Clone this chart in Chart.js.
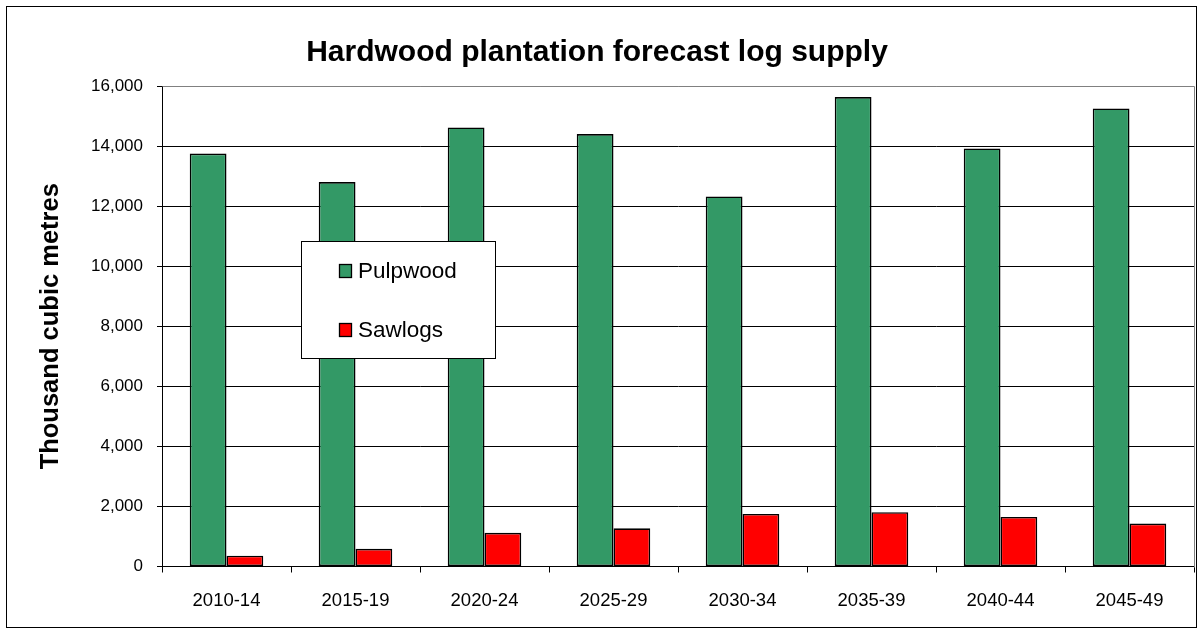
<!DOCTYPE html>
<html>
<head>
<meta charset="utf-8">
<title>Hardwood plantation forecast log supply</title>
<script src="https://cdn.jsdelivr.net/npm/chart.js@4/dist/chart.umd.min.js"></script>
<style>
  html, body { margin: 0; padding: 0; background: #ffffff; }
  #wrap { width: 1203px; height: 634px; }
</style>
</head>
<body>
<div id="wrap"><canvas id="c" width="1203" height="634"></canvas></div>
<script>
// Five-year harvest periods
const periods = ['2010-14', '2015-19', '2020-24', '2025-29', '2030-34', '2035-39', '2040-44', '2045-49'];
// Forecast supply, thousand cubic metres
const pulpwood = [13750, 12800, 14620, 14400, 12320, 15630, 13920, 15250];
const sawlogs = [360, 590, 1120, 1270, 1750, 1810, 1650, 1430];
// Value axis ticks
const yTicks = [0, 2000, 4000, 6000, 8000, 10000, 12000, 14000, 16000];

const FONT = "'Liberation Sans', Arial, Helvetica, sans-serif";

// White page with a thin frame around the whole chart
const framePlugin = {
  id: 'frame',
  beforeDraw(chart) {
    const ctx = chart.ctx;
    ctx.save();
    ctx.fillStyle = '#ffffff';
    ctx.fillRect(0, 0, chart.width, chart.height);
    ctx.strokeStyle = '#000000';
    ctx.lineWidth = 1;
    ctx.strokeRect(6.5, 6.5, chart.width - 13, chart.height - 13);
    ctx.restore();
  },
  beforeDatasetsDraw(chart) {
    // grey top and right edges of the plot area
    const { ctx, chartArea: a } = chart;
    ctx.save();
    ctx.strokeStyle = '#808080';
    ctx.lineWidth = 1;
    ctx.beginPath();
    ctx.moveTo(Math.round(a.left) + 0.5, Math.round(a.top) + 0.5);
    ctx.lineTo(Math.round(a.right) + 0.5, Math.round(a.top) + 0.5);
    ctx.lineTo(Math.round(a.right) + 0.5, Math.round(a.bottom) + 0.5);
    ctx.stroke();
    ctx.restore();
  }
};

// Boxed legend sitting over the plot area
const boxLegendPlugin = {
  id: 'boxLegend',
  afterDraw(chart) {
    const ctx = chart.ctx;
    const box = { x: 301.5, y: 241.5, w: 194, h: 117 };
    ctx.save();
    ctx.fillStyle = '#ffffff';
    ctx.fillRect(box.x, box.y, box.w, box.h);
    ctx.strokeStyle = '#000000';
    ctx.lineWidth = 1;
    ctx.strokeRect(box.x, box.y, box.w, box.h);
    const rows = [271, 330];
    ctx.font = '22.5px ' + FONT;
    ctx.textBaseline = 'middle';
    ctx.textAlign = 'left';
    chart.data.datasets.forEach((ds, i) => {
      const cy = rows[i];
      ctx.fillStyle = ds.backgroundColor;
      ctx.fillRect(339.5, cy - 6.5, 12, 13);
      ctx.strokeStyle = '#000000';
      ctx.lineWidth = 1.3;
      ctx.strokeRect(339.5, cy - 6.5, 12, 13);
      ctx.fillStyle = '#000000';
      ctx.fillText(ds.label, 358, cy + 1);
    });
    ctx.restore();
  }
};

new Chart(document.getElementById('c'), {
  type: 'bar',
  data: {
    labels: periods,
    datasets: [
      {
        label: 'Pulpwood',
        data: pulpwood,
        backgroundColor: '#339966',
        borderColor: '#000000',
        borderWidth: 1.6,
        borderSkipped: false,
        categoryPercentage: 0.57,
        barPercentage: 1.0
      },
      {
        label: 'Sawlogs',
        data: sawlogs,
        backgroundColor: '#ff0000',
        borderColor: '#000000',
        borderWidth: 1.6,
        borderSkipped: false,
        categoryPercentage: 0.57,
        barPercentage: 1.0
      }
    ]
  },
  options: {
    responsive: false,
    animation: false,
    devicePixelRatio: 1,
    layout: { padding: { left: 0, right: 9, top: 0, bottom: 0 } },
    plugins: {
      legend: { display: false },
      tooltip: { enabled: false },
      title: {
        display: true,
        text: 'Hardwood plantation forecast log supply',
        color: '#000000',
        font: { family: FONT, size: 30, weight: 'bold' },
        padding: { top: 35, bottom: 15 }
      }
    },
    scales: {
      x: {
        offset: true,
        grid: {
          offset: true,
          drawOnChartArea: false,
          drawTicks: true,
          tickLength: 6,
          color: '#000000',
          tickColor: '#000000'
        },
        border: { display: true, color: '#000000', width: 1 },
        ticks: {
          color: '#000000',
          font: { family: FONT, size: 18.5 },
          padding: 17,
          maxRotation: 0,
          autoSkip: false
        },
        afterFit(scale) { scale.height = 67.5; }
      },
      y: {
        min: 0,
        max: 16000,
        afterBuildTicks(scale) { scale.ticks = yTicks.map(v => ({ value: v })); },
        grid: {
          color: ctx => (ctx.tick && ctx.tick.value === 16000 ? '#808080' : '#000000'),
          tickColor: '#000000',
          tickLength: 5,
          drawTicks: true
        },
        border: { display: true, color: '#000000', width: 1 },
        ticks: {
          color: '#000000',
          font: { family: FONT, size: 17 },
          padding: 14,
          callback: v => Number(v).toLocaleString('en-US')
        },
        title: {
          display: true,
          text: 'Thousand cubic metres',
          color: '#000000',
          font: { family: FONT, size: 25.5, weight: 'bold' },
          padding: { top: 36, bottom: 0 }
        },
        afterFit(scale) { scale.width = 162; }
      }
    }
  },
  plugins: [framePlugin, boxLegendPlugin]
});
</script>
</body>
</html>
